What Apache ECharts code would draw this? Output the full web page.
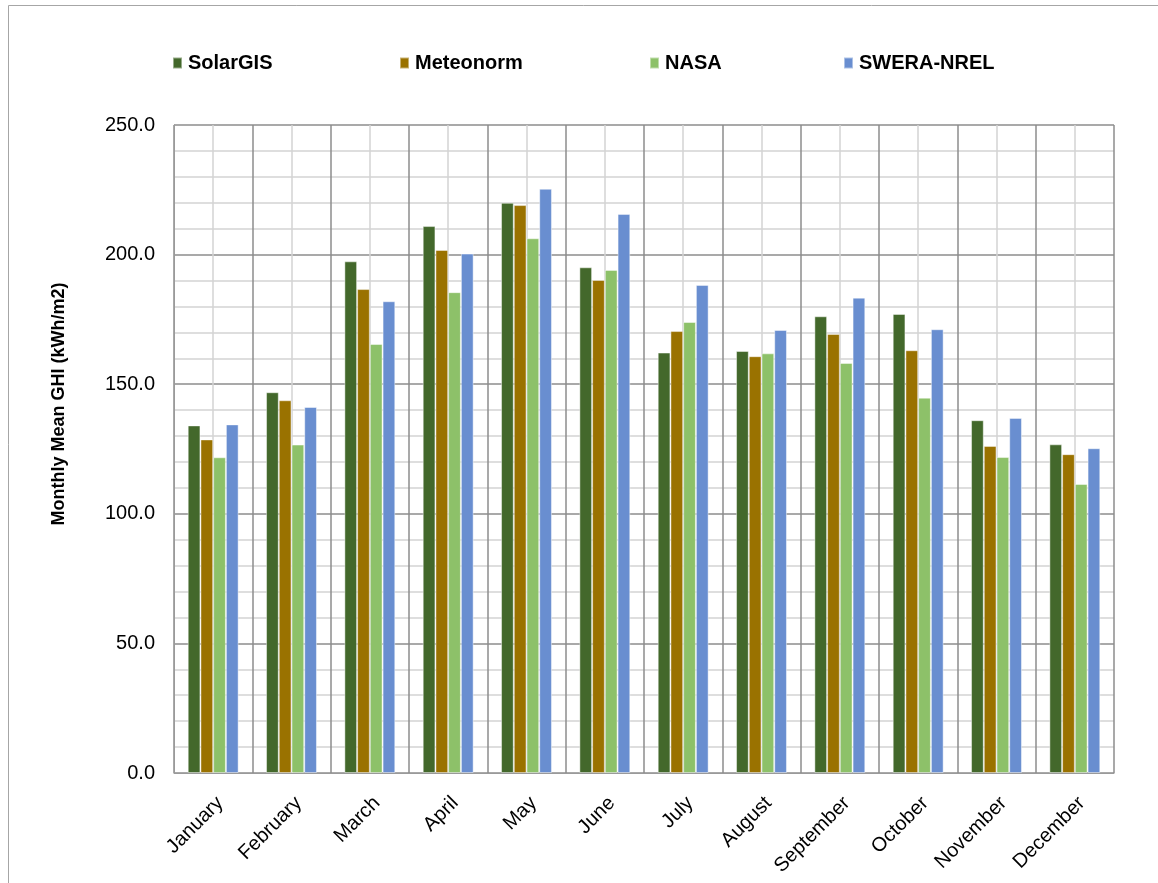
<!DOCTYPE html>
<html>
<head>
<meta charset="utf-8">
<script src="https://cdn.jsdelivr.net/npm/echarts@6/dist/echarts.min.js"></script>
<style>
  html, body { margin: 0; padding: 0; background: #fff; }
  #chart { width: 1158px; height: 883px; }
</style>
</head>
<body>
<div id="chart"></div>
<script>
// Monthly mean global horizontal irradiation by data source (kWh/m2)
const months = ['January', 'February', 'March', 'April', 'May', 'June',
  'July', 'August', 'September', 'October', 'November', 'December'];
const solarGIS  = [134.1, 146.9, 197.4, 211.0, 220.0, 195.1, 162.2, 162.8, 176.2, 177.1, 136.1, 126.8];
const meteonorm = [128.7, 143.8, 186.7, 201.8, 219.1, 190.2, 170.5, 160.8, 169.4, 163.1, 126.2, 123.0];
const nasa      = [121.8, 126.7, 165.5, 185.5, 206.3, 194.1, 174.0, 161.9, 158.2, 144.8, 121.9, 111.5];
const sweraNrel = [134.5, 141.2, 182.0, 200.4, 225.4, 215.7, 188.3, 170.9, 183.4, 171.2, 137.0, 125.3];
const seriesNames = ['SolarGIS', 'Meteonorm', 'NASA', 'SWERA-NREL'];
const yTicks = { min: 0, max: 250, step: 50 };
const yTitle = 'Monthly Mean GHI (kWh/m2)';

const colors = ['#43682b', '#9a7200', '#8dc169', '#698ed0'];
const font = 'Liberation Sans, Arial, sans-serif';
const seriesData = [solarGIS, meteonorm, nasa, sweraNrel];

const chart = echarts.init(document.getElementById('chart'));

// one legend per entry so each sits in its own column
const legendLeft = [167, 394, 644, 838];
const legends = seriesNames.map((name, i) => ({
  data: [name],
  left: legendLeft[i],
  top: 48,
  itemWidth: 9,
  itemHeight: 11,
  itemGap: 6,
  icon: 'rect',
  selectedMode: false,
  textStyle: { fontFamily: font, fontSize: 20, fontWeight: 'bold', color: '#000', padding: [0, 0, 0, 1] }
}));

chart.setOption({
  animation: false,
  color: colors,
  legend: legends,
  graphic: [{
    type: 'rect',
    shape: { x: 8.5, y: 5.5, width: 1200, height: 1000 },
    style: { fill: 'none', stroke: '#a6a6a6', lineWidth: 1 },
    silent: true, z: -10
  }, {
    type: 'text',
    x: 59, y: 404,
    rotation: Math.PI / 2,
    style: {
      text: yTitle, fontFamily: font, fontSize: 18, fontWeight: 'bold', fill: '#000',
      align: 'center', verticalAlign: 'middle'
    },
    silent: true
  }],
  grid: { left: 174, top: 125, right: 44, bottom: 110 },
  xAxis: [{
    type: 'category',
    data: months,
    axisLine: { lineStyle: { color: '#9a9a9a', width: 1 } },
    axisTick: { show: false },
    splitLine: { show: false },
    axisLabel: {
      rotate: 45, margin: 20, verticalAlign: 'top',
      fontFamily: font, fontSize: 20, color: '#000', interval: 0
    }
  }, {
    // half-category grid: boundaries dark, mid-lines light
    type: 'value',
    min: 0, max: months.length * 2, interval: 1,
    position: 'bottom',
    axisLine: { show: false }, axisTick: { show: false }, axisLabel: { show: false },
    splitLine: { show: true, lineStyle: { color: ['#8c8c8c', '#d3d3d3'], width: 1.5 } }
  }],
  yAxis: {
    type: 'value',
    min: yTicks.min, max: yTicks.max, interval: yTicks.step,
    axisLine: { show: true, lineStyle: { color: '#9a9a9a' } },
    axisTick: { show: false },
    axisLabel: { margin: 19, fontFamily: font, fontSize: 20, color: '#000', formatter: v => v.toFixed(1) },
    splitLine: { lineStyle: { color: '#8c8c8c', width: 1.5 } },
    minorTick: { show: false, splitNumber: 5 },
    minorSplitLine: { show: true, lineStyle: { color: '#d3d3d3', width: 1.5 } }
  },
  series: seriesNames.map((name, i) => ({
    name,
    type: 'bar',
    xAxisIndex: 0,
    data: seriesData[i],
    barGap: '0%',
    barCategoryGap: '35%',
    itemStyle: { color: colors[i], borderColor: 'rgba(255,255,255,0.45)', borderWidth: 1 }
  }))
});
</script>
</body>
</html>
